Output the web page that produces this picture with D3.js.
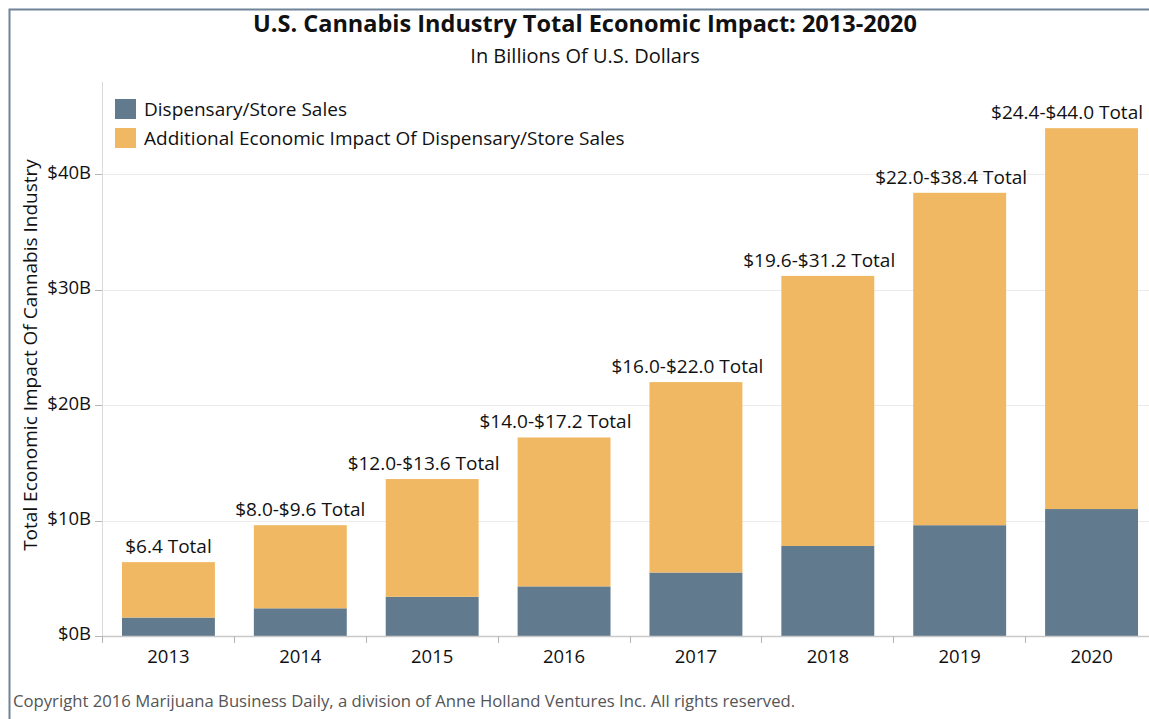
<!DOCTYPE html>
<html>
<head>
<meta charset="utf-8">
<script src="https://cdn.jsdelivr.net/npm/d3@7"></script>
<style>
  html, body { margin: 0; padding: 0; background: #fff; }
  svg { display: block; }
  text { font-family: "Open Sans", "Noto Sans", sans-serif; }
</style>
</head>
<body>
<svg id="chart" width="1149" height="719"></svg>
<script>
// ---- data ----
const years = ["2013", "2014", "2015", "2016", "2017", "2018", "2019", "2020"];
const dispensarySales = [1.6, 2.4, 3.4, 4.3, 5.5, 7.8, 9.6, 11.0];
const additionalImpact = [4.8, 7.2, 10.2, 12.9, 16.5, 23.4, 28.8, 33.0];
const totalLabels = ["$6.4 Total", "$8.0-$9.6 Total", "$12.0-$13.6 Total", "$14.0-$17.2 Total",
  "$16.0-$22.0 Total", "$19.6-$31.2 Total", "$22.0-$38.4 Total", "$24.4-$44.0 Total"];
const yTicks = [0, 10, 20, 30, 40];
const seriesNames = ["Dispensary/Store Sales", "Additional Economic Impact Of Dispensary/Store Sales"];
const seriesColors = ["#627a8d", "#f0b862"];

// ---- layout ----
const W = 1149, H = 719;
const plot = { left: 102, right: 1158, top: 82, bottom: 636 };
const svg = d3.select("#chart");

// border
svg.append("path")
  .attr("d", `M9.5,${H} L9.5,9.5 L${W},9.5`)
  .attr("fill", "none").attr("stroke", "#6f8498").attr("stroke-width", 2);

const x = d3.scaleBand().domain(years).range([plot.left, plot.right])
  .paddingInner(39 / 132).paddingOuter(20 / 132).align(0.5);
const y = d3.scaleLinear().domain([0, 48]).range([plot.bottom, plot.top]);

// clip
svg.append("defs").append("clipPath").attr("id", "clip")
  .append("rect").attr("x", plot.left).attr("y", 0).attr("width", W - plot.left).attr("height", plot.bottom + 1);

// gridlines
svg.append("g").selectAll("line").data(yTicks.filter(d => d > 0)).join("line")
  .attr("x1", plot.left).attr("x2", W)
  .attr("y1", d => Math.round(y(d)) + 0.5).attr("y2", d => Math.round(y(d)) + 0.5)
  .attr("stroke", "#ebebeb").attr("stroke-width", 1);

// y axis line
svg.append("line").attr("x1", plot.left + 0.5).attr("x2", plot.left + 0.5)
  .attr("y1", plot.top).attr("y2", plot.bottom).attr("stroke", "#d9d9d9");

// y ticks and labels
const yg = svg.append("g");
yg.selectAll("line").data(yTicks).join("line")
  .attr("x1", 95).attr("x2", plot.left)
  .attr("y1", d => Math.round(y(d)) + 0.5).attr("y2", d => Math.round(y(d)) + 0.5)
  .attr("stroke", "#b5b5b5");
yg.selectAll("text").data(yTicks).join("text")
  .attr("x", 91).attr("y", d => y(d) - 2)
  .attr("dy", "0.35em")
  .attr("text-anchor", "end").attr("font-size", 18.5).attr("fill", "#111")
  .text(d => "$" + d + "B");

// y axis title
svg.append("text")
  .attr("transform", `translate(37,${(plot.top + plot.bottom) / 2 - 4}) rotate(-90)`)
  .attr("text-anchor", "middle").attr("font-size", 19).attr("fill", "#111")
  .text("Total Economic Impact Of Cannabis Industry");

// stacked bars
const rows = years.map((yr, i) => ({ year: yr, d: dispensarySales[i], a: additionalImpact[i] }));
const stack = d3.stack().keys(["d", "a"])(rows);
const barsG = svg.append("g").attr("clip-path", "url(#clip)");
barsG.selectAll("g").data(stack).join("g")
  .attr("fill", (s, i) => seriesColors[i])
  .selectAll("rect").data(s => s).join("rect")
  .attr("x", d => x(d.data.year))
  .attr("width", x.bandwidth())
  .attr("y", d => y(d[1]))
  .attr("height", d => y(d[0]) - y(d[1]));

// x axis baseline
svg.append("line").attr("x1", plot.left).attr("x2", W)
  .attr("y1", plot.bottom + 0.5).attr("y2", plot.bottom + 0.5).attr("stroke", "#c9c9c9").attr("stroke-width", 1.5);

// category separator ticks
const stepX = x.step();
svg.append("g").selectAll("line").data(d3.range(years.length)).join("line")
  .attr("x1", i => Math.round(plot.left + i * stepX) + 0.5)
  .attr("x2", i => Math.round(plot.left + i * stepX) + 0.5)
  .attr("y1", plot.bottom).attr("y2", plot.bottom + 7)
  .attr("stroke", "#b5b5b5");

// x labels
svg.append("g").selectAll("text").data(years).join("text")
  .attr("x", d => x(d) + x.bandwidth() / 2)
  .attr("y", 663)
  .attr("text-anchor", "middle").attr("font-size", 18.5).attr("fill", "#111")
  .text(d => d);

// total labels
const totals = rows.map(r => r.d + r.a);
const lbl = svg.append("g").selectAll("text").data(years).join("text")
  .attr("font-size", 19).attr("fill", "#111")
  .attr("y", (d, i) => y(totals[i]) - 9)
  .text((d, i) => totalLabels[i]);
lbl.each(function (d, i) {
  const w = this.getComputedTextLength();
  const cx = x(d) + x.bandwidth() / 2;
  let left = cx - w / 2;
  let maxRight = W - 6;
  if (i < years.length - 1) {
    const nextTop = y(totals[i + 1]);
    const baseline = y(totals[i]) - 9;
    if (nextTop < baseline) maxRight = Math.min(maxRight, x(years[i + 1]) - 18);
  }
  if (left + w > maxRight) left = maxRight - w;
  d3.select(this).attr("x", left);
});

// legend
const leg = svg.append("g").attr("transform", "translate(115,99)");
seriesNames.forEach((name, i) => {
  const g = leg.append("g").attr("transform", `translate(0,${i * 29})`);
  g.append("rect").attr("width", 21).attr("height", 20).attr("fill", seriesColors[i]);
  g.append("text").attr("x", 29).attr("y", 10).attr("dy", "0.36em")
    .attr("font-size", 19).attr("fill", "#111").text(name);
});

// titles
svg.append("text").attr("x", 585).attr("y", 32).attr("text-anchor", "middle")
  .attr("font-size", 23.5).attr("font-weight", "bold").attr("fill", "#111")
  .text("U.S. Cannabis Industry Total Economic Impact: 2013-2020");
svg.append("text").attr("x", 585).attr("y", 63).attr("text-anchor", "middle")
  .attr("font-size", 20).attr("fill", "#111")
  .text("In Billions Of U.S. Dollars");

// copyright
svg.append("text").attr("x", 13).attr("y", 707)
  .attr("font-size", 16.7).attr("fill", "#555")
  .text("Copyright 2016 Marijuana Business Daily, a division of Anne Holland Ventures Inc. All rights reserved.");
</script>
</body>
</html>
